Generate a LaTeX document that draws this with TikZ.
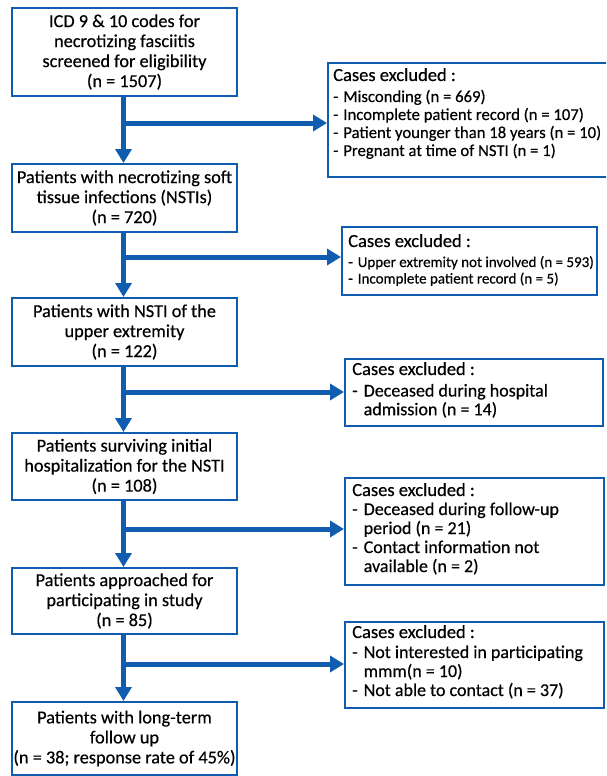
\documentclass[tikz,border=0pt]{standalone}
\usepackage{fontspec}
\setmainfont[FakeBold=0.4]{Carlito}
\usetikzlibrary{arrows.meta}
\definecolor{fcblue}{RGB}{16,92,174}
\newcommand{\hfont}{\fontsize{18.5}{20}\selectfont}
\begin{document}
\begin{tikzpicture}[x=1pt,y=-1pt,
  lbox/.style={draw=fcblue, line width=2pt, align=center, minimum width=225pt,
    inner sep=0pt, font=\fontsize{18.3}{20}\selectfont},
  rbox/.style={draw=fcblue, line width=2pt, anchor=north west, inner sep=0pt},
  rtext/.style={anchor=base west, inner sep=0pt, align=left},
  flow/.style={draw=fcblue, line width=5pt, -{Triangle[width=16pt,length=14pt]}}]
\useasboundingbox (0,0) rectangle (606,776);
\clip (0,0) rectangle (606,776);
\fill[white] (0,0) rectangle (606,776);
% main column
\node[lbox, minimum height=88pt] (b1) at (124.5,52) {ICD 9 \& 10 codes for\\necrotizing fasciitis\\screened for eligibility\\(n = 1507)};
\node[lbox, minimum height=68pt] (b2) at (124.5,198) {Patients with necrotizing soft\\tissue infections (NSTIs)\\(n = 720)};
\node[lbox, minimum height=68pt] (b3) at (124.5,332) {Patients with NSTI of the\\upper extremity\\(n = 122)};
\node[lbox, minimum height=67pt] (b4) at (124.5,466.5) {Patients surviving initial\\hospitalization for the NSTI\\(n = 108)};
\node[lbox, minimum height=66pt] (b5) at (124.5,601) {Patients approached for\\participating in study\\(n = 85)};
\node[lbox, minimum height=73pt] (b6) at (124.5,738.5) {Patients with long-term\\follow up\\(n = 38; response rate of 45\%)};
% exclusion boxes
\node[rbox, minimum width=290pt, minimum height=114pt] (r1) at (327,62) {};
\node[rbox, minimum width=255pt, minimum height=68pt] (r2) at (341,226) {};
\node[rbox, minimum width=258pt, minimum height=67pt] (r3) at (344,358) {};
\node[rbox, minimum width=259pt, minimum height=107pt] (r4) at (344,477) {};
\node[rbox, minimum width=259pt, minimum height=86pt] (r5) at (344,621) {};
% exclusion texts
\node[rtext, font=\fontsize{16.7}{18}\selectfont] (t1) at (333,81) {\begin{tabular}[t]{@{}l@{\hspace{5pt}}l@{}}\multicolumn{2}{@{}l@{}}{\hfont Cases excluded :}\\[3pt]
- & Misconding (n = 669)\\
- & Incomplete patient record (n = 107)\\
- & Patient younger than 18 years (n = 10)\\
- & Pregnant at time of NSTI (n = 1)\end{tabular}};
\node[rtext, font=\fontsize{15}{16.5}\selectfont] (t2) at (348,247) {\begin{tabular}[t]{@{}l@{\hspace{5pt}}l@{}}\multicolumn{2}{@{}l@{}}{\hfont Cases excluded :}\\[3.5pt]
- & Upper extremity not involved (n = 593)\\
- & Incomplete patient record (n = 5)\end{tabular}};
\node[rtext, font=\fontsize{18}{18.5}\selectfont] (t3) at (352,375) {\begin{tabular}[t]{@{}l@{\hspace{6pt}}l@{}}\multicolumn{2}{@{}l@{}}{\hfont Cases excluded :}\\[3pt]
- & Deceased during hospital\\
  & admission (n = 14)\end{tabular}};
\node[rtext, font=\fontsize{18}{19}\selectfont] (t4) at (352,496) {\begin{tabular}[t]{@{}l@{\hspace{6pt}}l@{}}\multicolumn{2}{@{}l@{}}{\hfont Cases excluded :}\\[0pt]
- & Deceased during follow-up\\
  & period (n = 21)\\
- & Contact information not\\
  & available (n = 2)\end{tabular}};
\node[rtext, font=\fontsize{18}{19}\selectfont] (t5) at (352,638) {\begin{tabular}[t]{@{}l@{\hspace{6pt}}l@{}}\multicolumn{2}{@{}l@{}}{\hfont Cases excluded :}\\[1pt]
- & Not interested in participating\\
  & mmm(n = 10)\\
- & Not able to contact (n = 37)\end{tabular}};
% branch points
\coordinate (h1) at (123.5,123);
\coordinate (h2) at (123.5,257);
\coordinate (h3) at (123.5,392);
\coordinate (h4) at (123.5,529);
\coordinate (h5) at (123.5,664);
% connectors
\draw[flow] (b1.south -| h1) -- (b2.north -| h1);
\draw[flow] (b2.south -| h1) -- (b3.north -| h1);
\draw[flow] (b3.south -| h1) -- (b4.north -| h1);
\draw[flow] (b4.south -| h1) -- (b5.north -| h1);
\draw[flow] (b5.south -| h1) -- (b6.north -| h1);
\draw[flow] (h1) -- (h1 -| r1.west);
\draw[flow] (h2) -- (h2 -| r2.west);
\draw[flow] (h3) -- (h3 -| r3.west);
\draw[flow] (h4) -- (h4 -| r4.west);
\draw[flow] (h5) -- (h5 -| r5.west);
\end{tikzpicture}
\end{document}
